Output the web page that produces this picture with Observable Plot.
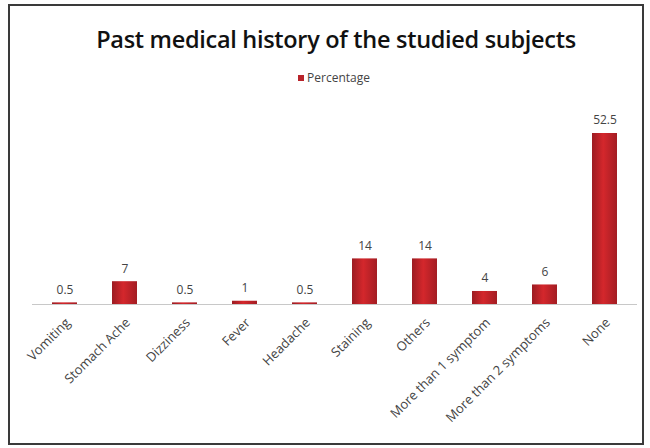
<!DOCTYPE html>
<html>
<head>
<meta charset="utf-8">
<script src="https://cdn.jsdelivr.net/npm/d3@7"></script>
<script src="https://cdn.jsdelivr.net/npm/@observablehq/plot@0.6"></script>
<style>
  html, body { margin: 0; padding: 0; background: #fff; }
  #frame {
    position: absolute; left: 8px; top: 4px; width: 632px; height: 437px;
    border: 2px solid #3a3a3a; background: #fff; overflow: hidden;
    font-family: "Open Sans", sans-serif;
  }
  #title {
    position: absolute; left: 0; width: 100%; top: 17px; text-align: center; padding-left: 20px; box-sizing: border-box;
    font-size: 23.5px; font-weight: 600; color: #111; letter-spacing: -0.3px;
  }
  #legend {
    position: absolute; left: 0; width: 100%; top: 63px; text-align: center; padding-left: 16px; box-sizing: border-box;
    font-size: 12px; color: #444;
  }
  #legend .sw { display: inline-block; width: 6px; height: 6px; background: #b8232a; margin-right: 3px; vertical-align: 1px; }
  #chart { position: absolute; left: 0; top: 91px; }
</style>
</head>
<body>
<div id="frame">
  <div id="title">Past medical history of the studied subjects</div>
  <div id="legend"><span class="sw"></span>Percentage</div>
  <div id="chart"></div>
</div>
<script>
const categories = ["Vomiting", "Stomach Ache", "Dizziness", "Fever", "Headache", "Staining", "Others", "More than 1 symptom", "More than 2 symptoms", "None"];
const percentages = [0.5, 7, 0.5, 1, 0.5, 14, 14, 4, 6, 52.5];
const seriesName = "Percentage";

const data = categories.map((c, i) => ({category: c, value: percentages[i]}));

const chart = Plot.plot({
  width: 632,
  height: 343,
  marginLeft: 22,
  marginRight: 5,
  marginTop: 36,
  marginBottom: 136,
  style: {fontFamily: "Open Sans, sans-serif", background: "transparent"},
  x: {domain: categories, paddingInner: 0.58, paddingOuter: 0.33, label: null},
  y: {domain: [0, 52.5], axis: null},
  marks: [
    Plot.axisX({tickSize: 0, tickRotate: -45, tickPadding: 8, dy: 8, dx: 3, fontSize: 13, fill: "#444"}),
    Plot.ruleY([0], {stroke: "#c8c8c8", strokeWidth: 1.2}),
    Plot.barY(data, {x: "category", y: "value", fill: "url(#barGrad)"}),
    Plot.text(data, {x: "category", y: "value", text: d => String(d.value), dy: -13, fontSize: 12, fill: "#444"})
  ]
});

// gradient for bars
const svg = d3.select(chart);
const defs = svg.insert("defs", ":first-child");
const g = defs.append("linearGradient").attr("id", "barGrad").attr("x1", "0").attr("x2", "1").attr("y1", "0").attr("y2", "0");
g.append("stop").attr("offset", "0%").attr("stop-color", "#9c1c22");
g.append("stop").attr("offset", "45%").attr("stop-color", "#d4272c");
g.append("stop").attr("offset", "100%").attr("stop-color", "#a31d23");

document.getElementById("chart").appendChild(chart);
</script>
</body>
</html>
